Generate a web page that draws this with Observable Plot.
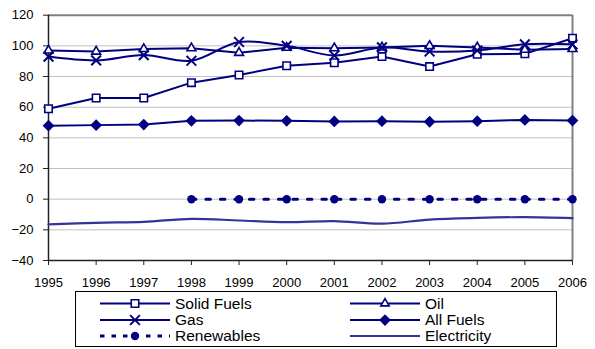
<!DOCTYPE html>
<html><head><meta charset="utf-8">
<script src="https://cdn.jsdelivr.net/npm/d3@7"></script>
<script src="https://cdn.jsdelivr.net/npm/@observablehq/plot@0.6"></script>
<style>
body{margin:0;background:#fff;font-family:"Liberation Sans",Arial,sans-serif}
#wrap{position:relative;width:595px;height:349px;overflow:hidden}
#legend{position:absolute;left:75px;top:291px}
</style>
</head><body><div id="wrap"><div id="chart"></div><div id="legend"></div></div>
<script>
const years = [1995,1996,1997,1998,1999,2000,2001,2002,2003,2004,2005,2006];
const solidFuels = [59,66,66,76,81,87,89,93,86.5,94.5,94.8,105];
const oil = [97,96.3,98,98.5,95.5,98.8,98.5,99,100,99,97.5,98];
const gas = [93,90.5,94,90.3,102.5,100,93.7,99,96.3,97,101,101];
const allFuels = [47.9,48.3,48.7,51.1,51.3,51.1,50.7,50.9,50.5,50.9,51.7,51.3];
const renewableYears = [1998,1999,2000,2001,2002,2003,2004,2005,2006];
const renewables = [0,0,0,0,0,0,0,0,0];
const electricity = [-16.5,-15.4,-14.8,-12.8,-13.9,-15,-14.3,-16,-13.3,-12.2,-11.7,-12.4];
const yTicks = [-40,-20,0,20,40,60,80,100,120];
const gridTicks = [-20,0,20,40,60,80,100];

const NAVY = "#000080";
const ELEC = "#333399";

const toRows = (xs, ys) => xs.map((x, i) => ({x, y: ys[i]}));
const solidRows = toRows(years, solidFuels);
const oilRows = toRows(years, oil);
const gasRows = toRows(years, gas);
const allRows = toRows(years, allFuels);
const renRows = toRows(renewableYears, renewables);
const elecRows = toRows(years, electricity);

const chart = Plot.plot({
  width: 595, height: 291,
  marginLeft: 48, marginRight: 23, marginTop: 14.7, marginBottom: 31,
  style: {fontFamily: '"Liberation Sans", Arial, sans-serif', fontSize: "13px", color: "#000", background: "#fff"},
  x: {domain: [1995, 2006]},
  y: {domain: [-40, 120]},
  marks: [
    Plot.ruleY(gridTicks, {stroke: "#c0c0c0", strokeWidth: 1}),
    Plot.ruleY([120], {stroke: "#808080", strokeWidth: 2}),
    Plot.ruleX([2006], {stroke: "#808080", strokeWidth: 2}),
    Plot.ruleX([1995], {stroke: "#222", strokeWidth: 1.5}),
    Plot.ruleY([-40], {stroke: "#222", strokeWidth: 1.5}),
    Plot.axisY({ticks: yTicks, tickSize: 5, tickPadding: 10, label: null, stroke: "#222", fontSize: 13}),
    Plot.axisX({ticks: years, tickFormat: d => String(d), tickSize: 5, tickPadding: 12, label: null, stroke: "#222", fontSize: 13}),
    Plot.line(elecRows, {x: "x", y: "y", stroke: ELEC, strokeWidth: 2.2, curve: "catmull-rom"}),
    Plot.line(renRows, {x: "x", y: "y", stroke: NAVY, strokeWidth: 3, strokeDasharray: "4.5,10"}),
    Plot.dot(renRows, {x: "x", y: "y", r: 4.2, fill: NAVY, stroke: "none"}),
    Plot.line(allRows, {x: "x", y: "y", stroke: NAVY, strokeWidth: 2}),
    Plot.dot(allRows, {x: "x", y: "y", symbol: "diamond2", r: 5.3, fill: NAVY, stroke: "none"}),
    Plot.line(solidRows, {x: "x", y: "y", stroke: NAVY, strokeWidth: 2}),
    Plot.dot(solidRows, {x: "x", y: "y", symbol: "square", r: 4.2, fill: "#fff", stroke: NAVY, strokeWidth: 1.6}),
    Plot.line(oilRows, {x: "x", y: "y", stroke: NAVY, strokeWidth: 2}),
    Plot.dot(oilRows, {x: "x", y: "y", symbol: "triangle", r: 3.3, fill: "#fff", stroke: NAVY, strokeWidth: 1.6}),
    Plot.line(gasRows, {x: "x", y: "y", stroke: NAVY, strokeWidth: 2, curve: "catmull-rom"}),
    Plot.dot(gasRows, {x: "x", y: "y", symbol: "times", r: 4.5, fill: "none", stroke: NAVY, strokeWidth: 2})
  ]
});
document.getElementById("chart").appendChild(chart);

// Legend
const legendItems = [
  {name: "Solid Fuels", col: 0, row: 0, sym: d3.symbolSquare, size: 56, fill: "#fff", stroke: NAVY, color: NAVY},
  {name: "Oil", col: 1, row: 0, sym: d3.symbolTriangle, size: 30, fill: "#fff", stroke: NAVY, color: NAVY},
  {name: "Gas", col: 0, row: 1, sym: d3.symbolTimes, size: 64, fill: "none", stroke: NAVY, color: NAVY},
  {name: "All Fuels", col: 1, row: 1, sym: d3.symbolDiamond2, size: 88, fill: NAVY, stroke: "none", color: NAVY},
  {name: "Renewables", col: 0, row: 2, sym: d3.symbolCircle, size: 55, fill: NAVY, stroke: "none", color: NAVY, dash: "4.5,7"},
  {name: "Electricity", col: 1, row: 2, sym: null, color: ELEC}
];
const lw = 482, lh = 56;
const lsvg = d3.select("#legend").append("svg").attr("width", lw).attr("height", lh)
  .style("font-family", '"Liberation Sans", Arial, sans-serif');
lsvg.append("rect").attr("x", 0.5).attr("y", 0.5).attr("width", lw - 1).attr("height", lh - 1)
  .attr("fill", "#fff").attr("stroke", "#000").attr("stroke-width", 1);
const colX = [25, 275], rowY = [12.5, 29, 45];
for (const it of legendItems) {
  const x0 = colX[it.col], y0 = rowY[it.row];
  const g = lsvg.append("g");
  g.append("line").attr("x1", x0).attr("x2", x0 + 70).attr("y1", y0).attr("y2", y0)
    .attr("stroke", it.color).attr("stroke-width", it.dash ? 3 : 2)
    .attr("stroke-dasharray", it.dash || null);
  if (it.sym) {
    g.append("path").attr("d", d3.symbol(it.sym, it.size)())
      .attr("transform", `translate(${x0 + 35},${y0})`)
      .attr("fill", it.fill).attr("stroke", it.stroke).attr("stroke-width", it.sym === d3.symbolTimes ? 2 : 1.6);
  }
  g.append("text").attr("x", x0 + 75).attr("y", y0).attr("dy", "0.35em")
    .attr("font-size", "15.5px").attr("fill", "#000").text(it.name);
}
</script>
</body></html>
